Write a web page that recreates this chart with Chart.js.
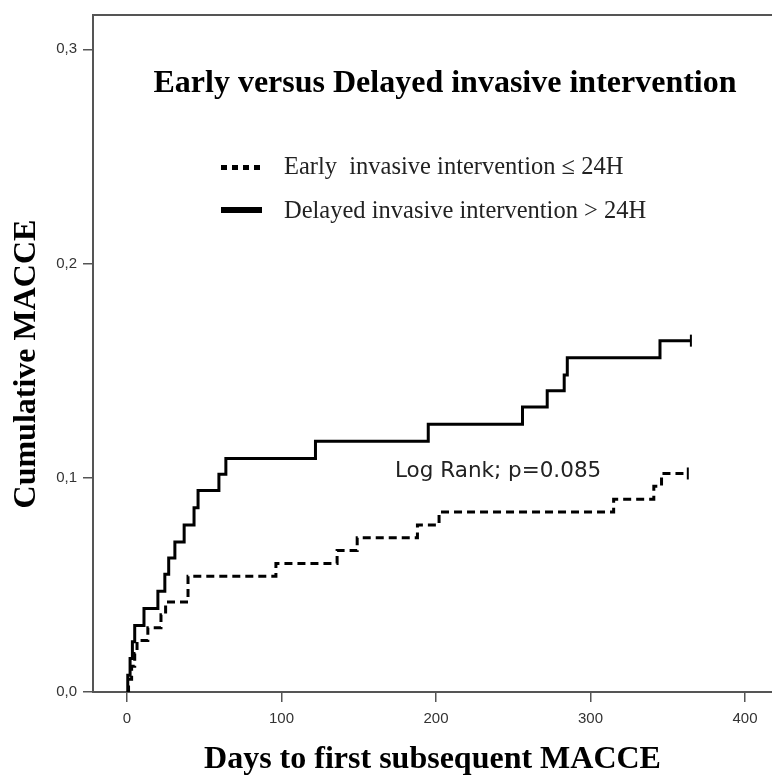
<!DOCTYPE html>
<html>
<head>
<meta charset="utf-8">
<script src="https://cdn.jsdelivr.net/npm/chart.js@4.4.0/dist/chart.umd.min.js"></script>
<style>
  html, body { margin: 0; padding: 0; background: #fff; overflow: hidden; }
</style>
</head>
<body>
<canvas id="graficaMacce" width="772" height="781"></canvas>
<script>
const diasTardia = [0, 0.5, 2, 3.5, 5, 11, 20, 24.5, 27, 31, 37, 43.4, 46, 59.5, 64, 122, 195, 256, 272, 283, 285, 345, 365];
const macceTardia = [0, 0.0078, 0.0156, 0.0234, 0.031, 0.039, 0.047, 0.055, 0.0625, 0.070, 0.078, 0.086, 0.094, 0.1016, 0.109, 0.117, 0.125, 0.133, 0.1406, 0.148, 0.156, 0.164, 0.164];

const diasTemprana = [0, 1, 3, 5, 6.5, 13.5, 22, 25, 39.5, 96.4, 136, 149, 188, 202, 315, 341, 346, 363];
const macceTemprana = [0, 0.006, 0.012, 0.018, 0.024, 0.030, 0.036, 0.042, 0.054, 0.060, 0.066, 0.072, 0.078, 0.084, 0.090, 0.096, 0.102, 0.102];

const etiquetasX = [0, 100, 200, 300, 400];
const etiquetasY = [0, 0.1, 0.2, 0.3];

const tituloGrafico = 'Early versus Delayed invasive intervention';
const tituloEjeY = 'Cumulative MACCE';
const leyendaTemprana = 'Early  invasive intervention \u2264 24H';
const leyendaTardia = 'Delayed invasive intervention > 24H';
const textoLogRank = 'Log Rank; p=0.085';

const puntos = (xs, ys) => xs.map((x, i) => ({ x: x, y: ys[i] }));
const radioCensura = (n) => (ctx) => ctx.dataIndex === n - 1 ? 6 : 0;

const serifNegrita = 'bold 32px "Liberation Serif", "Times New Roman", serif';

// Textos dentro del área del gráfico (título, leyenda, log rank) y título del eje Y
const textosInternos = {
    id: 'textosInternos',
    afterDraw(chart) {
        const ctx = chart.ctx;
        ctx.save();
        ctx.fillStyle = '#000';
        ctx.textBaseline = 'middle';

        ctx.font = serifNegrita;
        ctx.textAlign = 'center';
        ctx.fillText(tituloGrafico, 445, 84);

        ctx.save();
        ctx.translate(27, 364);
        ctx.rotate(-Math.PI / 2);
        ctx.fillText(tituloEjeY, 0, 0);
        ctx.restore();

        // leyenda
        ctx.textAlign = 'left';
        ctx.font = '24.5px "Liberation Serif", "Times New Roman", serif';
        ctx.fillStyle = '#222';
        ctx.fillText(leyendaTemprana, 284, 168);
        ctx.fillText(leyendaTardia, 284, 212);

        ctx.fillStyle = '#000';
        for (let i = 0; i < 4; i++) {
            ctx.fillRect(221 + i * 11, 165, 6, 5);
        }
        ctx.fillRect(221, 207, 41, 6);

        ctx.font = '21.5px "DejaVu Sans", sans-serif';
        ctx.fillStyle = '#222';
        ctx.fillText(textoLogRank, 395, 471);
        ctx.restore();
    }
};

const fuenteEjes = { family: '"Liberation Sans", Arial, sans-serif', size: 15 };
const fuenteTitulo = { family: '"Liberation Serif", "Times New Roman", serif', size: 32, weight: 'bold' };

let chartMacce = new Chart(document.getElementById('graficaMacce').getContext('2d'), {
    type: 'line',
    data: {
        datasets: [{
            label: leyendaTemprana,
            data: puntos(diasTemprana, macceTemprana),
            borderColor: '#000',
            borderWidth: 3,
            borderDash: [8, 5],
            stepped: 'before',
            fill: false,
            pointStyle: 'line',
            rotation: 90,
            pointRadius: radioCensura(diasTemprana.length),
            pointBorderColor: '#000',
            pointBorderWidth: 2
        }, {
            label: leyendaTardia,
            data: puntos(diasTardia, macceTardia),
            borderColor: '#000',
            borderWidth: 3,
            stepped: 'before',
            fill: false,
            pointStyle: 'line',
            rotation: 90,
            pointRadius: radioCensura(diasTardia.length),
            pointBorderColor: '#000',
            pointBorderWidth: 2
        }]
    },
    options: {
        responsive: false,
        animation: false,
        devicePixelRatio: 1,
        layout: { padding: 0, autoPadding: false },
        plugins: {
            legend: { display: false },
            tooltip: { enabled: false }
        },
        scales: {
            x: {
                type: 'linear',
                position: 'bottom',
                min: -22,
                max: 417.5,
                afterFit: (scale) => { scale.height = 89; },
                afterBuildTicks: (scale) => { scale.ticks = etiquetasX.map(v => ({ value: v })); },
                ticks: {
                    color: '#333',
                    font: fuenteEjes,
                    padding: 8,
                    maxRotation: 0,
                    callback: (v) => String(v)
                },
                grid: { drawOnChartArea: false, drawTicks: true, tickLength: 10, color: '#555', lineWidth: 1.5 },
                border: { display: true, color: '#555', width: 2 },
                title: { display: true, text: 'Days to first subsequent MACCE', color: '#000', font: fuenteTitulo, padding: { top: 0, bottom: 2 } }
            },
            xTop: {
                type: 'linear',
                position: 'top',
                min: -22,
                max: 417.5,
                afterFit: (scale) => { scale.height = 11; },
                ticks: { display: false },
                grid: { display: false },
                border: { display: true, color: '#555', width: 2 }
            },
            y: {
                type: 'linear',
                position: 'left',
                min: 0,
                max: 0.316,
                afterFit: (scale) => { scale.width = 93; },
                afterBuildTicks: (scale) => { scale.ticks = etiquetasY.map(v => ({ value: v })); },
                ticks: {
                    color: '#333',
                    font: fuenteEjes,
                    padding: 6,
                    callback: (v) => v.toFixed(1).replace('.', ',')
                },
                grid: { drawOnChartArea: false, drawTicks: true, tickLength: 10, color: '#555', lineWidth: 1.5 },
                border: { display: true, color: '#555', width: 2 },
                title: { display: false }
            }
        }
    },
    plugins: [textosInternos]
});
</script>
</body>
</html>
